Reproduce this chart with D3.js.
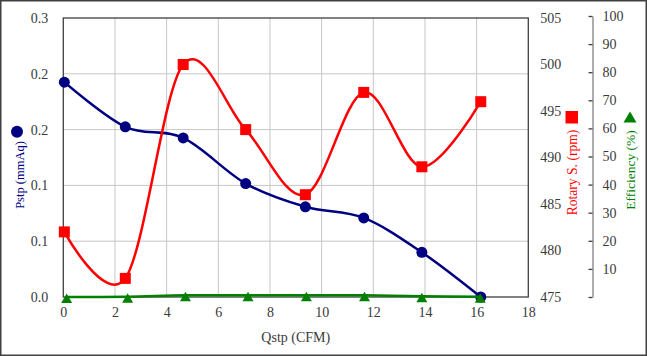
<!DOCTYPE html>
<html><head><meta charset="utf-8">
<script src="https://cdn.jsdelivr.net/npm/d3@7"></script>
<style>body{margin:0;background:#fff}svg{display:block}</style>
</head><body>
<script>
// ---- data ----
const qstp = [0.04, 2.40, 4.64, 7.06, 9.37, 11.63, 13.88, 16.16];
const pstp = [0.231, 0.183, 0.171, 0.122, 0.097, 0.085, 0.048, 0.0];
const rotary = [482, 477, 500, 493, 486, 497, 489, 496];
const qstpEff = [0.13, 2.49, 4.73, 7.15, 9.41, 11.66, 13.88, 16.14];
const efficiency = [0.0, 0.1, 0.6, 0.6, 0.6, 0.6, 0.3, 0.1];
const xTicks = [0, 2, 4, 6, 8, 10, 12, 14, 16, 18];
const pTicks = [0, 0.06, 0.12, 0.18, 0.24, 0.30];
const rTicks = [475, 480, 485, 490, 495, 500, 505];
const effTicks = [0, 10, 20, 30, 40, 50, 60, 70, 80, 90, 100];
const xTitle = "Qstp (CFM)";
const pTitle = "Pstp (mmAq)";
const rTitle = "Rotary S. (rpm)";
const effTitle = "Efficiency (%)";

const W = 647, H = 356;
const L = 63.3, R = 528.3, T = 18, B = 297;
const font = "'Liberation Serif','Times New Roman',serif";
const tickColor = "#3a3a3a";

const svg = d3.select("body").append("svg").attr("width", W).attr("height", H);
svg.append("rect").attr("x", 0.75).attr("y", 0.75).attr("width", W - 1.5).attr("height", H - 1.5)
  .attr("fill", "#fff").attr("stroke", "#404040").attr("stroke-width", 1.5);

const x = d3.scaleLinear().domain([0, 18]).range([L, R]);
const yP = d3.scaleLinear().domain([0, 0.3]).range([B, T]);
const yR = d3.scaleLinear().domain([475, 505]).range([B, T]);
const yE = d3.scaleLinear().domain([0, 100]).range([B, 16]);

// gridlines
const grid = svg.append("g").attr("stroke", "#c6c6c6").attr("stroke-width", 1);
grid.selectAll(".gx").data(xTicks.slice(1, -1)).enter().append("line")
  .attr("x1", d => x(d)).attr("x2", d => x(d)).attr("y1", T).attr("y2", B);
grid.selectAll(".gy").data(pTicks.slice(1, -1)).enter().append("line")
  .attr("x1", L).attr("x2", R).attr("y1", d => yP(d)).attr("y2", d => yP(d));

// frame
svg.append("rect").attr("x", L).attr("y", T).attr("width", R - L).attr("height", B - T)
  .attr("fill", "none").attr("stroke", "#404040").attr("stroke-width", 1.3);

function styleAxis(g) {
  g.select(".domain").remove();
  g.selectAll("text").attr("font-family", font).attr("font-size", 14).attr("fill", tickColor);
}

svg.append("g").attr("transform", `translate(0,${B})`)
  .call(d3.axisBottom(x).tickValues(xTicks).tickSize(0).tickPadding(10).tickFormat(d3.format("d")))
  .call(styleAxis);
svg.append("g").attr("transform", `translate(${L},0)`)
  .call(d3.axisLeft(yP).tickValues(pTicks).tickSize(0).tickPadding(15).tickFormat(d => d.toFixed(1)))
  .call(styleAxis);
svg.append("g").attr("transform", `translate(${R},0)`)
  .call(d3.axisRight(yR).tickValues(rTicks).tickSize(0).tickPadding(12).tickFormat(d3.format("d")))
  .call(styleAxis);
const effAx = svg.append("g").attr("transform", `translate(592.5,0)`)
  .call(d3.axisRight(yE).tickValues(effTicks).tickSizeInner(-4).tickSizeOuter(0).tickPadding(10)
    .tickFormat(d => d === 0 ? "" : d));
effAx.select(".domain").attr("stroke", "#808080").attr("stroke-width", 1.3);
effAx.selectAll(".tick line").attr("stroke", "#404040").attr("stroke-width", 1.3);
effAx.selectAll("text").attr("font-family", font).attr("font-size", 14).attr("fill", tickColor);

// series
const curve = d3.curveCardinal.tension(0);
const pData = qstp.map((q, i) => [q, pstp[i]]);
const rData = qstp.map((q, i) => [q, rotary[i]]);
const eData = qstpEff.map((q, i) => [q, efficiency[i]]);

svg.append("path").datum(pData).attr("fill", "none").attr("stroke", "#000080").attr("stroke-width", 2.5)
  .attr("d", d3.line().x(d => x(d[0])).y(d => yP(d[1])).curve(curve));
svg.selectAll(".pc").data(pData).enter().append("circle")
  .attr("cx", d => x(d[0])).attr("cy", d => yP(d[1])).attr("r", 5.5).attr("fill", "#000080");

svg.append("path").datum(rData).attr("fill", "none").attr("stroke", "#ff0000").attr("stroke-width", 2.5)
  .attr("d", d3.line().x(d => x(d[0])).y(d => yR(d[1])).curve(curve));
svg.selectAll(".rs").data(rData).enter().append("rect")
  .attr("x", d => x(d[0]) - 5.5).attr("y", d => yR(d[1]) - 5.5).attr("width", 11).attr("height", 11).attr("fill", "#ff0000");

svg.append("path").datum(eData).attr("fill", "none").attr("stroke", "#008000").attr("stroke-width", 2.5)
  .attr("d", d3.line().x(d => x(d[0])).y(d => yE(d[1])).curve(curve));
svg.selectAll(".et").data(eData).enter().append("path")
  .attr("transform", d => `translate(${x(d[0])},${yE(d[1])})`)
  .attr("d", "M0,-3.5L5.5,6L-5.5,6Z").attr("fill", "#008000");

// titles
svg.append("text").attr("x", (L + R) / 2).attr("y", 342).attr("text-anchor", "middle")
  .attr("font-family", font).attr("font-size", 14).attr("fill", tickColor).text(xTitle);

svg.append("circle").attr("cx", 17).attr("cy", 131.7).attr("r", 6).attr("fill", "#000080");
svg.append("text").attr("transform", "translate(23.5,175) rotate(-90)").attr("text-anchor", "middle")
  .attr("font-family", font).attr("font-size", 12.5).attr("fill", "#000080").text(pTitle);

svg.append("rect").attr("x", 565.5).attr("y", 111).attr("width", 12.5).attr("height", 12.5).attr("fill", "#ff0000");
svg.append("text").attr("transform", "translate(577,172.5) rotate(-90)").attr("text-anchor", "middle")
  .attr("font-family", font).attr("font-size", 13.6).attr("fill", "#ff0000").text(rTitle);

svg.append("path").attr("d", "M630,111.5L636.5,122.5L623.5,122.5Z").attr("fill", "#008000");
svg.append("text").attr("transform", "translate(635,170) rotate(-90)").attr("text-anchor", "middle")
  .attr("font-family", font).attr("font-size", 13.5).attr("fill", "#008000").text(effTitle);
</script>
</body></html>
